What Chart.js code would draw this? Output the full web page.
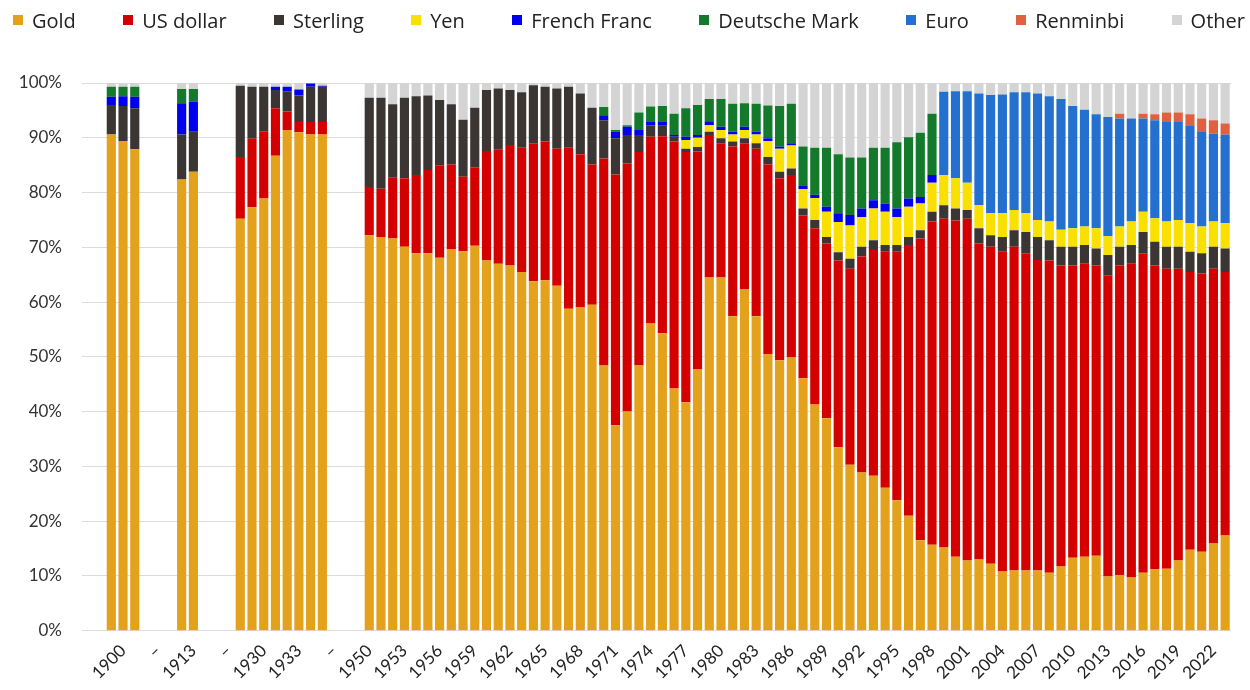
<!DOCTYPE html>
<html>
<head>
<meta charset="utf-8">
<script src="https://cdn.jsdelivr.net/npm/chart.js@4.4.1/dist/chart.umd.min.js"></script>
<style>
  html, body { margin: 0; padding: 0; background: #fff; }
  #wrap { position: relative; width: 1250px; height: 690px; }
  #legend {
    position: absolute; left: 13px; right: 5px; top: 0; height: 40px;
    display: flex; justify-content: space-between; align-items: center;
    font: 20px "Open Sans", Lato, sans-serif; color: #222;
  }
  .item { display: flex; align-items: center; white-space: nowrap; }
  .swatch { width: 10px; height: 10px; margin-right: 9px; }
</style>
</head>
<body>
<div id="wrap">
  <div id="legend"></div>
  <canvas id="chart"></canvas>
</div>
<script>
// Categories: two blank slots at the start, then three eras separated by "–" gaps
const categories = [
  "", "",
  "1899", "1900", "1901", "–", "–", "–",
  "1912", "1913", "–", "–", "–",
  "1928", "1929", "1930", "1931", "1932", "1933", "1934", "1935", "–", "–", "–",
  "1950", "1951", "1952", "1953", "1954", "1955", "1956", "1957", "1958", "1959",
  "1960", "1961", "1962", "1963", "1964", "1965", "1966", "1967", "1968", "1969",
  "1970", "1971", "1972", "1973", "1974", "1975", "1976", "1977", "1978", "1979",
  "1980", "1981", "1982", "1983", "1984", "1985", "1986", "1987", "1988", "1989",
  "1990", "1991", "1992", "1993", "1994", "1995", "1996", "1997", "1998", "1999",
  "2000", "2001", "2002", "2003", "2004", "2005", "2006", "2007", "2008", "2009",
  "2010", "2011", "2012", "2013", "2014", "2015", "2016", "2017", "2018", "2019",
  "2020", "2021", "2022", "2023"
];

// Shares of total reserves, % (1950–2023 rows are ten years each)
const gold = [
  null, null,
  90.6, 89.4, 87.9, null, null, null,
  82.4, 83.8, null, null, null,
  75.2, 77.3, 78.9, 86.7, 91.4, 91.0, 90.6, 90.6, null, null, null,
  72.2, 71.9, 71.6, 70.1, 68.9, 68.9, 68.1, 69.7, 69.3, 70.3,
  67.6, 67.0, 66.7, 65.5, 63.8, 64.0, 63.0, 58.8, 59.0, 59.5,
  48.4, 37.5, 40.0, 48.4, 56.1, 54.3, 44.2, 41.7, 47.7, 64.5,
  64.5, 57.4, 62.3, 57.4, 50.5, 49.4, 49.9, 46.1, 41.3, 38.8,
  33.5, 30.3, 28.9, 28.3, 26.1, 23.8, 21.0, 16.5, 15.7, 15.2,
  13.5, 12.8, 13.0, 12.2, 10.8, 11.0, 11.0, 11.0, 10.6, 11.7,
  13.3, 13.5, 13.7, 9.9, 10.1, 9.7, 10.6, 11.2, 11.3, 12.8,
  14.8, 14.4, 15.9, 17.4
];

const usDollar = [
  null, null,
  0, 0, 0, null, null, null,
  0, 0, null, null, null,
  11.3, 12.5, 12.3, 8.7, 3.4, 1.9, 2.3, 2.3, null, null, null,
  8.8, 8.8, 11.1, 12.5, 14.3, 15.2, 16.9, 15.4, 13.6, 14.3,
  20.0, 20.8, 22.0, 22.7, 25.2, 25.3, 25.0, 29.4, 28.0, 25.6,
  37.8, 45.8, 45.3, 39.0, 34.1, 36.0, 45.1, 45.7, 39.8, 26.0,
  24.5, 31.0, 26.7, 30.6, 34.6, 33.2, 33.3, 29.7, 32.2, 31.9,
  34.1, 35.8, 39.4, 41.2, 43.1, 45.4, 49.4, 55.1, 59.0, 60.0,
  61.4, 62.4, 57.7, 57.9, 58.4, 59.1, 57.9, 56.7, 57.0, 55.0,
  53.4, 53.5, 53.0, 55.0, 56.6, 57.3, 58.3, 55.5, 54.8, 53.3,
  50.7, 50.8, 50.2, 48.1
];

const sterling = [
  null, null,
  5.4, 6.4, 7.5, null, null, null,
  8.2, 7.3, null, null, null,
  13.0, 9.5, 8.1, 3.3, 3.7, 4.8, 6.4, 6.4, null, null, null,
  16.3, 16.6, 13.4, 14.7, 14.4, 13.6, 11.9, 11.0, 10.4, 10.9,
  11.1, 11.2, 10.0, 10.1, 10.6, 10.0, 11.0, 11.1, 11.1, 10.4,
  7.0, 6.6, 5.2, 3.1, 2.1, 1.9, 0.9, 0.6, 0.8, 0.6,
  0.9, 0.9, 0.9, 1.0, 1.4, 1.2, 1.2, 1.3, 1.5, 1.2,
  1.5, 1.8, 1.8, 1.8, 1.2, 1.2, 1.5, 1.5, 1.8, 2.5,
  2.2, 1.6, 2.8, 2.1, 2.7, 3.0, 3.9, 4.2, 3.7, 3.4,
  3.4, 3.4, 3.1, 3.7, 3.4, 3.4, 3.9, 4.3, 4.0, 4.0,
  3.7, 3.7, 4.0, 4.3
];

const yen = [
  null, null,
  0, 0, 0, null, null, null,
  0, 0, null, null, null,
  0, 0, 0, 0, 0, 0, 0, 0, null, null, null,
  0, 0, 0, 0, 0, 0, 0, 0, 0, 0,
  0, 0, 0, 0, 0, 0, 0, 0, 0, 0,
  0, 0, 0, 0, 0, 0, 0, 1.6, 1.7, 1.2,
  1.5, 1.3, 1.5, 1.6, 2.9, 4.2, 4.2, 3.5, 4.0, 4.6,
  5.5, 6.1, 5.4, 5.8, 6.1, 5.1, 5.5, 4.9, 5.3, 5.5,
  5.5, 5.0, 4.2, 4.0, 4.3, 3.7, 3.4, 3.1, 3.4, 3.1,
  3.4, 3.4, 3.7, 3.4, 3.7, 4.3, 3.7, 4.3, 4.6, 4.9,
  5.2, 4.9, 4.6, 4.6
];

const frenchFranc = [
  null, null,
  1.5, 1.8, 2.1, null, null, null,
  5.7, 5.5, null, null, null,
  0, 0, 0, 0.6, 0.8, 1.1, 0.6, 0.2, null, null, null,
  0, 0, 0, 0, 0, 0, 0, 0, 0, 0,
  0, 0, 0, 0, 0, 0, 0, 0, 0, 0,
  0.9, 1.2, 1.5, 0.9, 0.6, 0.7, 0.3, 0.6, 0.5, 0.7,
  0.6, 0.5, 0.6, 0.5, 0.5, 0.4, 0.4, 0.6, 0.6, 0.9,
  1.6, 1.9, 1.6, 1.5, 1.5, 1.6, 1.5, 1.2, 1.4, 0,
  0, 0, 0, 0, 0, 0, 0, 0, 0, 0,
  0, 0, 0, 0, 0, 0, 0, 0, 0, 0,
  0, 0, 0, 0
];

const deutscheMark = [
  null, null,
  1.8, 1.7, 1.8, null, null, null,
  2.6, 2.3, null, null, null,
  0, 0, 0, 0, 0, 0, 0, 0, null, null, null,
  0, 0, 0, 0, 0, 0, 0, 0, 0, 0,
  0, 0, 0, 0, 0, 0, 0, 0, 0, 0,
  1.5, 0.3, 0.3, 3.2, 2.8, 2.9, 3.9, 5.2, 5.5, 4.1,
  5.1, 5.1, 4.3, 5.1, 6.0, 7.4, 7.2, 7.2, 8.6, 10.8,
  10.8, 10.5, 9.3, 9.6, 10.2, 12.1, 11.2, 11.7, 11.2, 0,
  0, 0, 0, 0, 0, 0, 0, 0, 0, 0,
  0, 0, 0, 0, 0, 0, 0, 0, 0, 0,
  0, 0, 0, 0
];

const euro = [
  null, null,
  0, 0, 0, null, null, null,
  0, 0, null, null, null,
  0, 0, 0, 0, 0, 0, 0, 0, null, null, null,
  0, 0, 0, 0, 0, 0, 0, 0, 0, 0,
  0, 0, 0, 0, 0, 0, 0, 0, 0, 0,
  0, 0, 0, 0, 0, 0, 0, 0, 0, 0,
  0, 0, 0, 0, 0, 0, 0, 0, 0, 0,
  0, 0, 0, 0, 0, 0, 0, 0, 0, 15.2,
  15.9, 16.7, 20.4, 21.6, 21.7, 21.5, 22.1, 23.1, 22.9, 23.9,
  22.3, 21.3, 20.8, 21.8, 19.7, 18.8, 17.0, 17.9, 18.3, 17.9,
  17.9, 17.4, 16.1, 16.2
];

const renminbi = [
  null, null,
  0, 0, 0, null, null, null,
  0, 0, null, null, null,
  0, 0, 0, 0, 0, 0, 0, 0, null, null, null,
  0, 0, 0, 0, 0, 0, 0, 0, 0, 0,
  0, 0, 0, 0, 0, 0, 0, 0, 0, 0,
  0, 0, 0, 0, 0, 0, 0, 0, 0, 0,
  0, 0, 0, 0, 0, 0, 0, 0, 0, 0,
  0, 0, 0, 0, 0, 0, 0, 0, 0, 0,
  0, 0, 0, 0, 0, 0, 0, 0, 0, 0,
  0, 0, 0, 0, 0.9, 0, 0.9, 1.1, 1.6, 1.7,
  2.0, 2.3, 2.4, 2.0
];

const other = [
  null, null,
  0.7, 0.7, 0.7, null, null, null,
  1.1, 1.1, null, null, null,
  0.5, 0.7, 0.7, 0.7, 0.7, 1.2, 0.1, 0.5, null, null, null,
  2.7, 2.7, 3.9, 2.7, 2.4, 2.3, 3.1, 3.9, 6.7, 4.5,
  1.3, 1.0, 1.3, 1.7, 0.4, 0.7, 1.0, 0.7, 1.9, 4.5,
  4.4, 8.6, 7.7, 5.4, 4.3, 4.2, 5.6, 4.6, 4.0, 2.9,
  2.9, 3.8, 3.7, 3.8, 4.1, 4.2, 3.8, 11.6, 11.8, 11.8,
  13.0, 13.6, 13.6, 11.8, 11.8, 10.8, 9.9, 9.1, 5.6, 1.6,
  1.5, 1.5, 1.9, 2.2, 2.1, 1.7, 1.7, 1.9, 2.4, 2.9,
  4.2, 4.9, 5.7, 6.2, 5.6, 6.5, 5.6, 5.7, 5.4, 5.4,
  5.7, 6.5, 6.8, 7.4
];

const seriesNames = ["Gold", "US dollar", "Sterling", "Yen", "French Franc",
  "Deutsche Mark", "Euro", "Renminbi", "Other"];
const seriesColors = ["#E3A11C", "#D40000", "#3B3634", "#F9E000", "#0000EE",
  "#137A2C", "#2370D0", "#E0603F", "#D4D4D4"];
const seriesData = [gold, usDollar, sterling, yen, frenchFranc,
  deutscheMark, euro, renminbi, other];

const FONT = "Lato, 'Open Sans', sans-serif";

// legend row above the canvas, one entry per dataset
function buildLegend(chart) {
  const box = document.getElementById("legend");
  box.innerHTML = "";
  chart.data.datasets.forEach((ds) => {
    const item = document.createElement("div");
    item.className = "item";
    const swatch = document.createElement("span");
    swatch.className = "swatch";
    swatch.style.background = ds.backgroundColor;
    item.appendChild(swatch);
    item.appendChild(document.createTextNode(ds.label));
    box.appendChild(item);
  });
}

const chart = new Chart(document.getElementById("chart"), {
  type: "bar",
  data: {
    labels: categories,
    datasets: seriesNames.map((name, i) => ({
      label: name,
      data: seriesData[i],
      backgroundColor: seriesColors[i],
      borderWidth: 0,
      barPercentage: 0.78,
      categoryPercentage: 1.0
    }))
  },
  options: {
    responsive: true,
    maintainAspectRatio: false,
    animation: false,
    layout: { padding: { top: 83, left: 20, right: 19, bottom: 5 } },
    plugins: {
      legend: { display: false },
      tooltip: { enabled: false }
    },
    scales: {
      x: {
        stacked: true,
        grid: { display: false },
        border: { display: false },
        ticks: {
          autoSkip: false,
          minRotation: 45,
          maxRotation: 45,
          padding: 2,
          color: "#222",
          font: { family: FONT, size: 17 },
          callback: (v, i) => (i % 3 === 0 ? categories[i] : "")
        }
      },
      y: {
        stacked: true,
        min: 0,
        max: 100,
        afterFit: (scale) => { scale.width = 62; },
        grid: { color: "#dcdcdc", drawTicks: false },
        border: { display: false },
        ticks: {
          stepSize: 10,
          padding: 20,
          color: "#333",
          font: { family: FONT, size: 17 },
          callback: (v) => v + "%"
        }
      }
    }
  }
});

buildLegend(chart);
</script>
</body>
</html>
